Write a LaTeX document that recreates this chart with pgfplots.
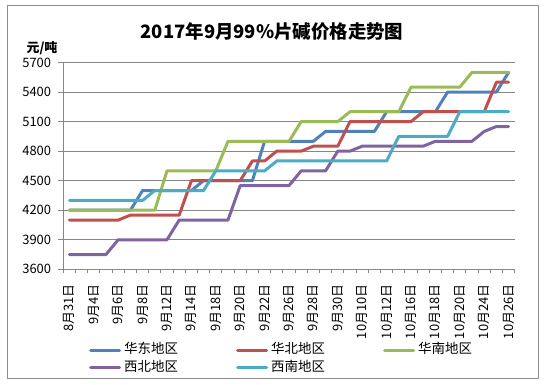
\documentclass[border=0pt]{standalone}
\usepackage{pgfplots}
\pgfplotsset{compat=1.18}
\usepackage{pgfplotstable}
\usepackage{fontspec}
\setmainfont{Noto Sans CJK SC}
\definecolor{c1}{HTML}{4F81BD}
\definecolor{c2}{HTML}{C0504D}
\definecolor{c3}{HTML}{9BBB59}
\definecolor{c4}{HTML}{8064A2}
\definecolor{c5}{HTML}{4BACC6}
\definecolor{gridc}{HTML}{878787}
\definecolor{borderc}{HTML}{8C8C8C}

\pgfplotstableread{
i hd hb hn xb xn
0 4200 4100 4200 3750 4300
1 4200 4100 4200 3750 4300
2 4200 4100 4200 3750 4300
3 4200 4100 4200 3750 4300
4 4200 4100 4200 3900 4300
5 4200 4150 4200 3900 4300
6 4400 4150 4200 3900 4300
7 4400 4150 4200 3900 4400
8 4400 4150 4600 3900 4400
9 4400 4150 4600 4100 4400
10 4400 4500 4600 4100 4400
11 4500 4500 4600 4100 4400
12 4500 4500 4600 4100 4600
13 4500 4500 4900 4100 4600
14 4500 4500 4900 4450 4600
15 4500 4700 4900 4450 4600
16 4900 4700 4900 4450 4600
17 4900 4800 4900 4450 4700
18 4900 4800 4900 4450 4700
19 4900 4800 5100 4600 4700
20 4900 4850 5100 4600 4700
21 5000 4850 5100 4600 4700
22 5000 4850 5100 4800 4700
23 5000 5100 5200 4800 4700
24 5000 5100 5200 4850 4700
25 5000 5100 5200 4850 4700
26 5200 5100 5200 4850 4700
27 5200 5100 5200 4850 4950
28 5200 5100 5450 4850 4950
29 5200 5200 5450 4850 4950
30 5200 5200 5450 4900 4950
31 5400 5200 5450 4900 4950
32 5400 5200 5450 4900 5200
33 5400 5200 5600 4900 5200
34 5400 5200 5600 5000 5200
35 5400 5500 5600 5050 5200
36 5600 5500 5600 5050 5200
}\data

\begin{document}
\begin{tikzpicture}
\useasboundingbox (0,0) rectangle (544bp,385bp);
\draw[color=borderc, line width=1bp] (7bp,6bp) rectangle (538bp,379bp);
\begin{axis}[
  at={(63.3bp,115.7bp)}, anchor=south west,
  scale only axis, width=451.4bp, height=206.8bp,
  xmin=-0.5, xmax=36.5, ymin=3600, ymax=5700,
  ytick={3600,3900,...,5700},
  xtick={0,2,...,36},
  xticklabels={8月31日,9月4日,9月6日,9月8日,9月12日,9月14日,9月18日,9月20日,9月22日,9月26日,9月28日,9月30日,10月10日,10月12日,10月16日,10月18日,10月20日,10月24日,10月26日},
  minor xtick={-0.5,0.5,...,36.5},
  axis x line*=bottom, axis y line*=left,
  axis line style={color=gridc, line width=1bp},
  ymajorgrids, grid style={color=gridc, line width=1bp},
  tick align=outside,
  major tick length=5bp, minor tick length=4bp,
  major x tick style={draw=none},
  tick style={color=gridc, line width=1bp},
  ticklabel style={font=\fontsize{13}{15}\selectfont},
  xticklabel style={rotate=90, anchor=east, inner sep=0pt, xshift=-10bp},
  yticklabel style={anchor=east, inner sep=0pt, xshift=-7bp},
  legend columns=3,
  legend style={at={(0.057,-0.3484)}, anchor=north west, draw=none, fill=none, inner sep=0pt,
    font=\fontsize{13.5}{15}\selectfont,
    nodes={inner xsep=3bp, inner ysep=2.15bp, text width=109bp, text height=10bp, text depth=3bp, align=left},
    column sep=0pt, row sep=0pt},
  legend image code/.code={\draw[#1, line width=3bp] (0bp,0bp) -- (29bp,0bp);},
  every axis plot/.append style={line width=3bp, line join=round, line cap=round},
  /pgf/number format/1000 sep={},
  /pgf/number format/assume math mode=true,
]
\addplot[c1] table[x=i,y=hd]{\data}; \addlegendentry{华东地区}
\addplot[c2] table[x=i,y=hb]{\data}; \addlegendentry{华北地区}
\addplot[c3] table[x=i,y=hn]{\data}; \addlegendentry{华南地区}
\addplot[c4] table[x=i,y=xb]{\data}; \addlegendentry{西北地区}
\addplot[c5] table[x=i,y=xn]{\data}; \addlegendentry{西南地区}
\end{axis}
\node[font=\bfseries\fontsize{18.5}{20}\selectfont] at (272bp,353bp) {2017年9月99\%片碱价格走势图};
\node[font=\bfseries\fontsize{13}{15}\selectfont] at (42bp,337.3bp) {元/吨};
\end{tikzpicture}
\end{document}
